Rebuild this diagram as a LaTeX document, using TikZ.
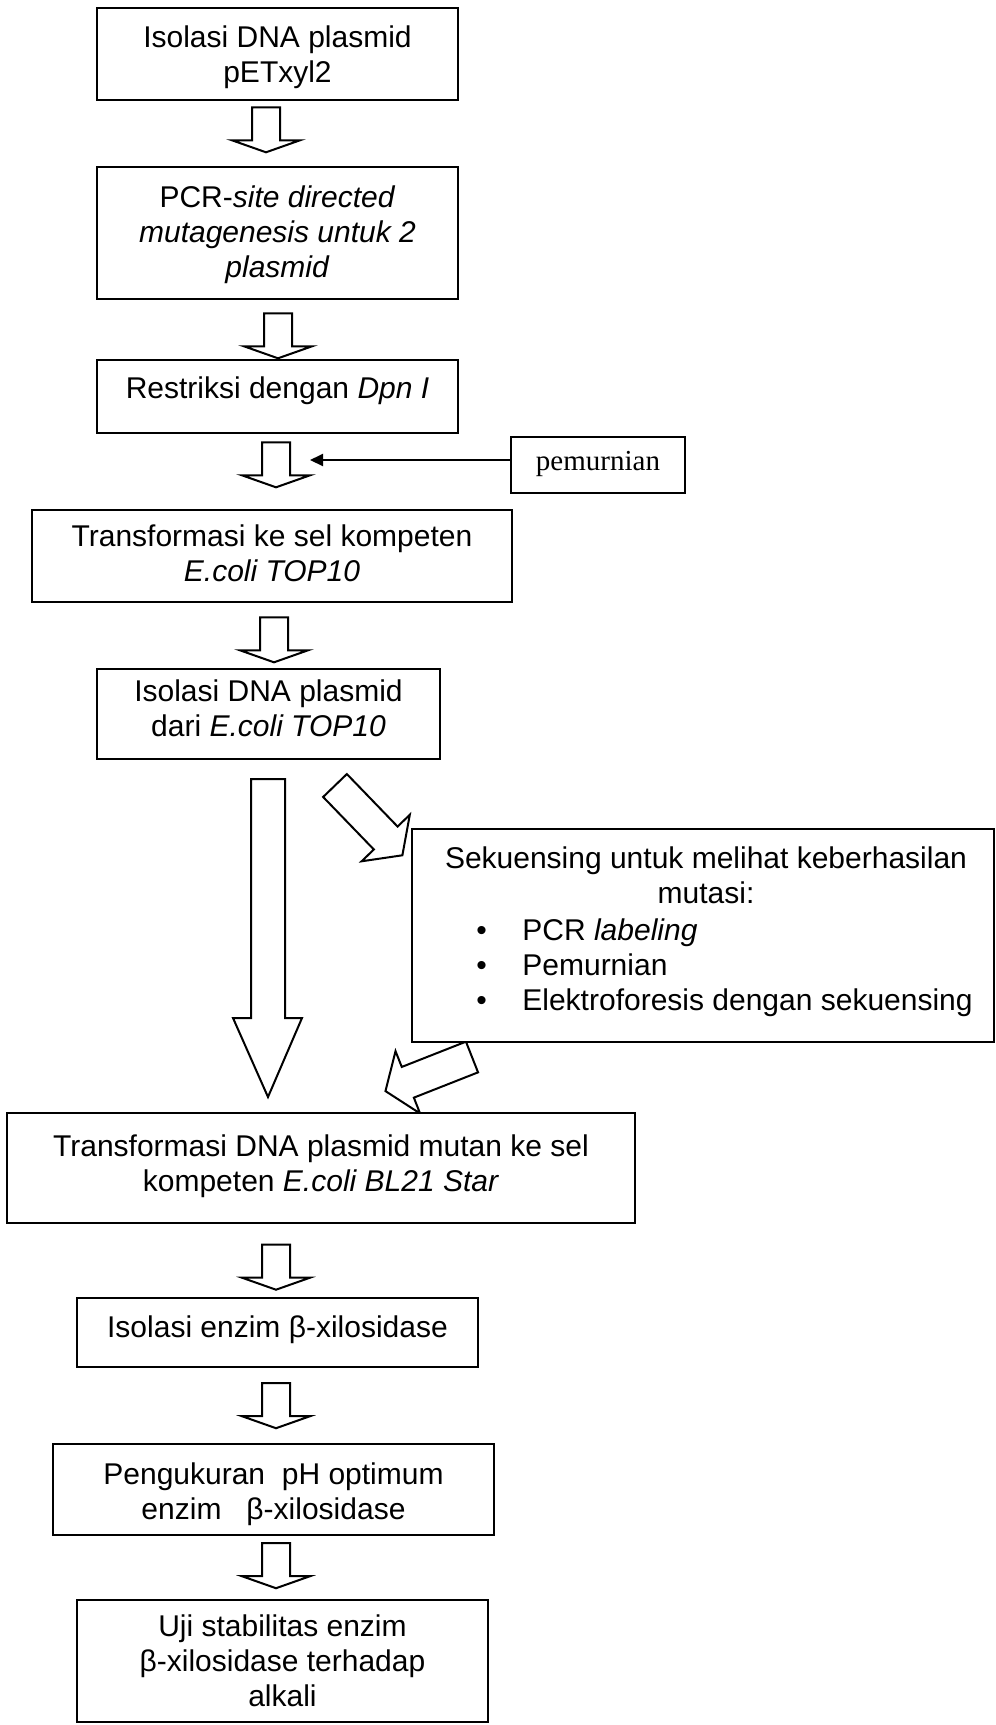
\documentclass[tikz,border=0pt]{standalone}
\usepackage{fontspec}
\setmainfont{Liberation Sans}
\newfontfamily\serifface{Liberation Serif}
\usetikzlibrary{calc,arrows.meta,backgrounds}

% one unit = one pixel of a 996 x 1725 page, y grows downwards
\tikzset{
  box/.style={draw=black, line width=1.3pt, fill=white, inner sep=0pt},
  thinbox/.style={box, line width=0.8pt},
  txt/.style={inner sep=0pt, align=center, font=\fontsize{15pt}{17.5pt}\selectfont},
  serif txt/.style={inner sep=0pt, font=\serifface\fontsize{14.5pt}{17.5pt}\selectfont},
  blockarrow/.style={draw=black, line width=1pt, fill=white, line join=miter},
  conn/.style={draw=black, line width=1pt, -{Triangle[length=6.5pt,width=6pt]}},
  downarr/.pic={\path[blockarrow] (-14,0) -- (14,0) -- (14,33) -- (34,33) -- (0,45)
                 -- (-34,33) -- (-14,33) -- cycle;},
}

\begin{document}
\begin{tikzpicture}[x=0.5pt, y=-0.5pt]
\useasboundingbox (0,0) rectangle (996,1725);
\begin{scope}[on background layer]
  \fill[white] (0,0) rectangle (996,1725);
\end{scope}

% ---- process boxes ----
\node[box, minimum width=180.5pt, minimum height=46pt] (b1) at (277.5,54) {};
\node[txt] (t1) at ($(b1.center)+(0,4)$) {\strut Isolasi DNA plasmid\\\strut pETxyl2};

\node[box, minimum width=180.5pt, minimum height=66pt] (b2) at (277.5,233) {};
\node[txt] (t2) at ($(b2.center)+(0,2)$)
  {\strut PCR-\textit{site directed}\\\strut\textit{mutagenesis untuk 2}\\\strut\textit{plasmid}};

\node[box, minimum width=180.5pt, minimum height=36.5pt] (b3) at (277.5,396.5) {};
\node[txt] (t3) at ($(b3.center)+(0,-5.5)$) {\strut Restriksi dengan \textit{Dpn I}};

\node[box, minimum width=87pt, minimum height=28pt] (pm) at (598,465) {};
\node[serif txt] (tpm) at ($(pm.center)+(0,-2)$) {\strut pemurnian};

\node[box, minimum width=240pt, minimum height=46pt] (b4) at (272,556) {};
\node[txt] (t4) at ($(b4.center)+(0,1)$)
  {\strut Transformasi ke sel kompeten\\\strut\textit{E.coli TOP10}};

\node[box, minimum width=171.5pt, minimum height=45pt] (b5) at (268.5,714) {};
\node[txt] (t5) at ($(b5.center)+(0,-2)$) {\strut Isolasi DNA plasmid\\\strut dari \textit{E.coli TOP10}};

\node[box, minimum width=291pt, minimum height=106.5pt] (b6) at (703,935.5) {};
\node[txt] (t6) at (706,879) {\strut Sekuensing untuk melihat keberhasilan\\\strut mutasi:};
\node[txt, align=left, anchor=west] (t6list) at (476,968)
  {\strut\makebox[23pt][l]{\textbullet}PCR \textit{labeling}\\
   \strut\makebox[23pt][l]{\textbullet}Pemurnian\\
   \strut\makebox[23pt][l]{\textbullet}Elektroforesis dengan sekuensing};

\node[thinbox, minimum width=314pt, minimum height=55pt] (b7) at (321,1168) {};
\node[txt] (t7) at ($(b7.center)+(0,-1)$)
  {\strut Transformasi DNA plasmid mutan ke sel\\\strut kompeten \textit{E.coli BL21 Star}};

\node[box, minimum width=200.5pt, minimum height=34.5pt] (b8) at (277.5,1332.5) {};
\node[txt] (t8) at ($(b8.center)+(0,-2)$) {\strut Isolasi enzim β-xilosidase};

\node[thinbox, minimum width=220.5pt, minimum height=45.5pt] (b9) at (273.5,1489.5) {};
\node[txt] (t9) at ($(b9.center)+(0,5)$)
  {\strut Pengukuran\ \ pH optimum\\\strut enzim\ \ \ β-xilosidase};

\node[thinbox, minimum width=205.5pt, minimum height=61pt] (b10) at (282.5,1661) {};
\node[txt] (t10) at ($(b10.center)+(0,3)$)
  {\strut Uji stabilitas enzim\\\strut β-xilosidase terhadap\\\strut alkali};

% ---- block arrows between the steps ----
\begin{scope}[on background layer]
  \pic at ($(b1.south)+(-11.5,6)$) {downarr};
  \pic at ($(b2.south)+(0.5,13)$) {downarr};
  \pic at ($(b3.south)+(-1.5,8)$) {downarr};
  \pic at ($(b4.south)+(2,14)$) {downarr};
  \pic at ($(b8.north)+(-1.5,-52)$) {downarr};
  \pic at ($(b9.north)+(2.5,-60)$) {downarr};
  \pic at ($(b10.north)+(-6.5,-56)$) {downarr};

  % long arrow straight down to the second transformation
  \path[blockarrow] (251,779) -- (285,779) -- (285,1018) -- (302,1018) -- (268,1097)
    -- (233,1018) -- (251,1018) -- cycle;

  % side branch to sequencing
  \begin{scope}[shift={(335,785.5)}, rotate=-46]
    \path[blockarrow] (0,-16.5) -- (73,-16.5) -- (73,-33.5) -- (97,0) -- (73,33.5)
      -- (73,16.5) -- (0,16.5) -- cycle;
  \end{scope}
  % back from sequencing
  \begin{scope}[shift={(472,1057)}, rotate=201.5]
    \path[blockarrow] (0,-16.5) -- (69,-16.5) -- (69,-33.5) -- (93,0) -- (69,33.5)
      -- (69,16.5) -- (0,16.5) -- cycle;
  \end{scope}
\end{scope}

% purification feeding into the step after restriction
\coordinate (pmtip) at (310,460);
\draw[conn] ($(pm.west)+(0,-5)$) -- (pmtip);

\end{tikzpicture}
\end{document}
